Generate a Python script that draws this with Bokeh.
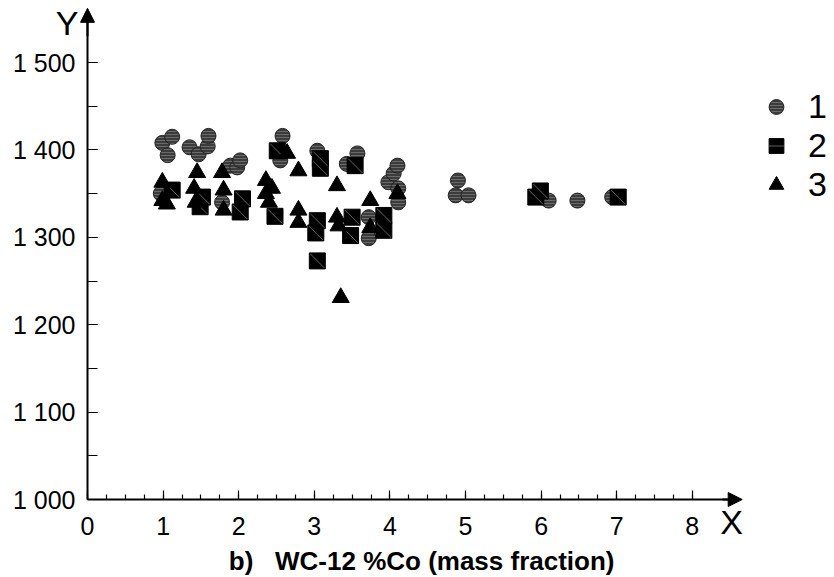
import math
from bokeh.plotting import figure
from bokeh.models import (Range1d, FixedTicker, Arrow, NormalHead, Label, Legend, LegendItem)
from bokeh.embed import file_html
from bokeh.resources import INLINE

# ---------------- data ----------------
x1 = [0.97, 0.99, 1.06, 1.12, 1.35, 1.47, 1.59, 1.60, 1.78, 1.89, 1.98, 2.02, 2.55, 2.58,
      3.04, 3.43, 3.57, 3.72, 3.72, 3.98, 4.05, 4.10, 4.11, 4.11, 4.87, 4.90, 5.04, 6.10, 6.48, 6.94]
y1 = [1350, 1408, 1394, 1415, 1403, 1395, 1404, 1416, 1340, 1382, 1380, 1388, 1388, 1416,
      1399, 1384, 1396, 1323, 1299, 1363, 1373, 1382, 1356, 1340, 1348, 1365, 1348, 1342, 1342, 1346]

x2 = [1.12, 1.49, 1.52, 2.02, 2.05, 2.48, 2.51, 3.02, 3.04, 3.04, 3.08, 3.08, 3.48, 3.50,
      3.54, 3.92, 3.92, 5.93, 5.99, 7.02]
y2 = [1354, 1335, 1346, 1329, 1344, 1324, 1399, 1305, 1319, 1273, 1390, 1379, 1302, 1323,
      1382, 1325, 1308, 1346, 1353, 1346]

x3 = [0.99, 0.99, 1.05, 1.41, 1.43, 1.45, 1.78, 1.80, 1.80, 2.36, 2.36, 2.40, 2.44, 2.64,
      2.79, 2.79, 2.79, 3.30, 3.30, 3.32, 3.35, 3.74, 3.74, 4.10]
y3 = [1363, 1342, 1338, 1356, 1340, 1374, 1374, 1354, 1331, 1365, 1350, 1340, 1356, 1396,
      1376, 1331, 1317, 1359, 1323, 1313, 1231, 1342, 1311, 1350]

series_names = ["1", "2", "3"]
x_ticks = [0, 1, 2, 3, 4, 5, 6, 7, 8]
y_ticks = [1000, 1100, 1200, 1300, 1400, 1500]
y_tick_labels = ["1 000", "1 100", "1 200", "1 300", "1 400", "1 500"]
x_title = "b)\u00a0\u00a0\u00a0WC-12 %Co (mass fraction)"

FONT = "Liberation Sans"

# canvas geometry (pixels) -> ranges
W, H = 834, 577
X0_PX, PX_PER_X = 87.0, 75.6      # pixel of x=0, pixels per x unit
Y0_PX, PX_PER_Y = 499.0, 0.874    # pixel of y=1000, pixels per y unit
x_lo = -X0_PX / PX_PER_X
x_hi = (W - X0_PX) / PX_PER_X
y_hi = 1000 + Y0_PX / PX_PER_Y
y_lo = 1000 - (H - Y0_PX) / PX_PER_Y

p = figure(frame_width=W, frame_height=H,
           x_range=Range1d(x_lo, x_hi), y_range=Range1d(y_lo, y_hi),
           output_backend="svg", toolbar_location=None,
           min_border=0)
p.grid.visible = False
p.outline_line_color = None

# axes (placed at the data origin)
for ax in (p.xaxis[0], p.yaxis[0]):
    ax.axis_line_width = 2
    ax.axis_line_color = "black"
    ax.major_tick_line_width = 1.2
    ax.minor_tick_line_width = 1.2
    ax.major_tick_out = 0
    ax.minor_tick_out = 0
    ax.major_label_text_font = FONT
    ax.major_label_text_font_size = "25px"
    ax.major_label_text_color = "black"

xa = p.xaxis[0]
xa.fixed_location = 1000
xa.bounds = (0, 8.6)
xa.ticker = FixedTicker(ticks=x_ticks, minor_ticks=[i * 0.25 for i in range(0, 33)])
xa.major_tick_in = 9
xa.minor_tick_in = 5
xa.major_label_standoff = 17

ya = p.yaxis[0]
ya.fixed_location = 0
ya.bounds = (1000, 1550)
ya.ticker = FixedTicker(ticks=y_ticks, minor_ticks=[1000 + 50 * i for i in range(0, 11)])
ya.major_tick_in = 10
ya.minor_tick_in = 10
ya.major_label_standoff = 12
ya.major_label_overrides = {t: l for t, l in zip(y_ticks, y_tick_labels)}

# arrows on axes
p.add_layout(Arrow(end=NormalHead(size=14, fill_color="black", line_color="black"),
                   x_start=8.4, y_start=1000, x_end=8.66, y_end=1000,
                   line_width=2, line_color="black"))
p.add_layout(Arrow(end=NormalHead(size=14, fill_color="black", line_color="black"),
                   x_start=0, y_start=1530, x_end=0, y_end=1562,
                   line_width=2, line_color="black"))

# scatter series
r1 = p.scatter(x1, y1, marker="circle", size=15, fill_color="#3c3c3c", line_color="#222222",
               line_width=1, hatch_pattern="horizontal_line", hatch_color="#8a8a8a",
               hatch_scale=3, hatch_weight=0.6)
r2 = p.scatter(x2, y2, marker="square", size=16, fill_color="black", line_color="black",
               line_width=1)
r2d = p.scatter(x2, y2, marker="dash", size=20, angle=-math.pi / 4, line_color="#8a8a8a",
                line_width=0.7)
r3 = p.scatter(x3, y3, marker="triangle", size=17, fill_color="black", line_color="black",
               line_width=1)

legend = Legend(items=[LegendItem(label=series_names[0], renderers=[r1]),
                       LegendItem(label=series_names[1], renderers=[r2, r2d]),
                       LegendItem(label=series_names[2], renderers=[r3])],
                location=(756, 373), label_text_font=FONT, label_text_font_size="34px",
                label_text_color="black",
                glyph_width=40, glyph_height=37, label_standoff=12, spacing=0,
                padding=0, margin=0, border_line_alpha=0, background_fill_alpha=0,
                label_height=37)
p.add_layout(legend, "center")

# axis letters and title
p.add_layout(Label(x=8.52, y=1000, text="X", text_font=FONT, text_font_size="34px",
                   text_color="black",
                   text_align="center", text_baseline="top", y_offset=-3))
p.add_layout(Label(x=0, y=1562, text="Y", text_font=FONT, text_font_size="34px",
                   text_color="black",
                   text_align="right", text_baseline="top", x_offset=-9, y_offset=4))
p.add_layout(Label(x=4.42, y=1000, text=x_title, text_font=FONT, text_font_size="26px",
                   text_color="black",
                   text_font_style="bold", text_align="center", text_baseline="alphabetic",
                   y_offset=-61))

open("out.html", "w").write(file_html(p, INLINE))
